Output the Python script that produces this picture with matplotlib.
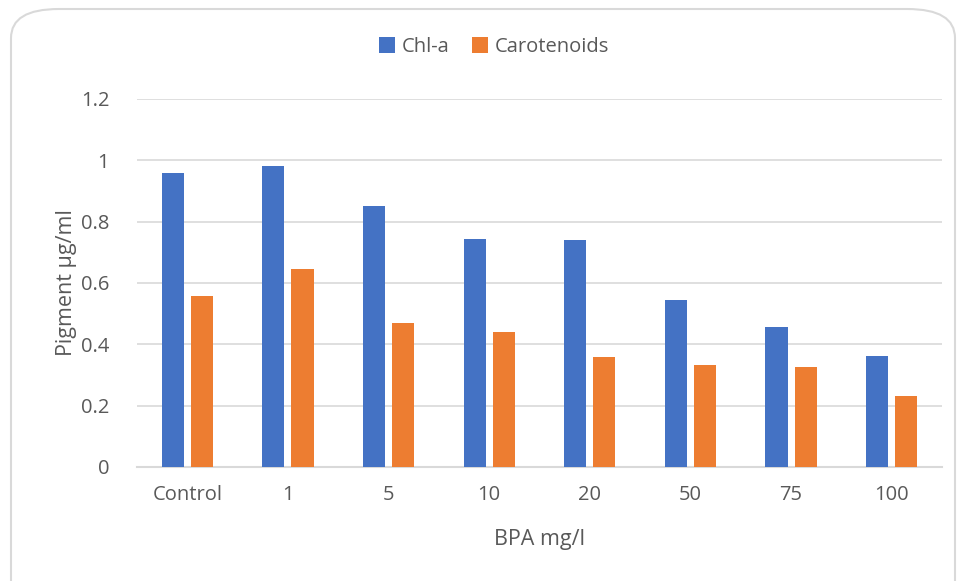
import numpy as np
import matplotlib
matplotlib.use("Agg")
import matplotlib.pyplot as plt
from matplotlib.patches import FancyBboxPatch

plt.rcParams['font.family'] = ['Open Sans', 'DejaVu Sans']

categories = ["Control", "1", "5", "10", "20", "50", "75", "100"]
chl_a = [0.959, 0.981, 0.851, 0.743, 0.740, 0.545, 0.456, 0.362]
carotenoids = [0.558, 0.646, 0.470, 0.440, 0.359, 0.333, 0.326, 0.231]
yticks = [0, 0.2, 0.4, 0.6, 0.8, 1.0, 1.2]
ytick_labels = ["0", "0.2", "0.4", "0.6", "0.8", "1", "1.2"]

txt = "#595959"
grid = "#d9d9d9"

fig = plt.figure(figsize=(9.58, 5.81), dpi=100)
# rounded chart border
fig.patches.append(FancyBboxPatch((11/958, -0.05), 944/958, 1.05 - 9/581,
                                  boxstyle="round,pad=0,rounding_size=0.05",
                                  transform=fig.transFigure, fc="white",
                                  ec=grid, lw=1.5, zorder=-1))

ax = fig.add_axes([137/958, 1 - 467/581, (942 - 137)/958, (467 - 99)/581])
ax.set_facecolor("none")
x = np.arange(len(categories))
w = 0.22
ax.bar(x - 0.145, chl_a, w, color="#4472c4", label="Chl-a", zorder=3)
ax.bar(x + 0.145, carotenoids, w, color="#ed7d31", label="Carotenoids", zorder=3)

ax.set_xlim(-0.5, len(categories) - 0.5)
ax.set_ylim(0, 1.2)
ax.set_yticks(yticks)
ax.set_yticklabels(ytick_labels)
ax.set_xticks(x)
ax.set_xticklabels(categories)
ax.grid(axis="y", color=grid, lw=1.2, zorder=0)
for s in ["left", "right", "top"]:
    ax.spines[s].set_visible(False)
ax.spines["bottom"].set_color(grid)
ax.spines["bottom"].set_linewidth(1.5)
ax.tick_params(axis="both", length=0, labelsize=14.5, colors=txt)
ax.tick_params(axis="x", pad=13)
ax.tick_params(axis="y", pad=20)

ax.set_xlabel("BPA mg/l", fontsize=15.5, color=txt, labelpad=17)
ax.set_ylabel("Pigment µg/ml", fontsize=15.5, color=txt, labelpad=3)

fig.legend(loc="center", bbox_to_anchor=(494/958, 1 - 47/581), ncol=2,
           frameon=False, fontsize=14.5, labelcolor=txt, handlelength=0.8,
           handleheight=0.8, handletextpad=0.35, columnspacing=1.1)

fig.savefig("out.png", dpi=100)
